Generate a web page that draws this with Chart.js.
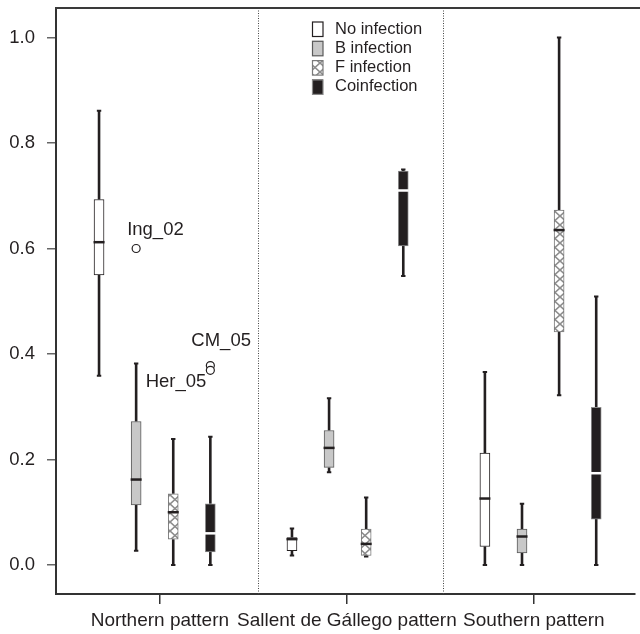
<!DOCTYPE html>
<html>
<head>
<meta charset="utf-8">
<script src="https://cdn.jsdelivr.net/npm/chart.js@4.4.1/dist/chart.umd.min.js"></script>
<style>
html,body{margin:0;padding:0;background:#fff;}
canvas{display:block;}
</style>
</head>
<body>
<canvas id="c" width="640" height="634"></canvas>
<script>
// ---- data ----
const groups = ['Northern pattern', 'Sallent de Gállego pattern', 'Southern pattern'];
const seriesNames = ['No infection', 'B infection', 'F infection', 'Coinfection'];
// each row: [lower whisker, Q1, median, Q3, upper whisker] for one group
const noInfection = [[0.359, 0.550, 0.612, 0.693, 0.861], [0.018, 0.027, 0.049, 0.052, 0.069], [0.000, 0.035, 0.126, 0.212, 0.366]];
const bInfection  = [[0.027, 0.114, 0.162, 0.272, 0.382], [0.176, 0.185, 0.222, 0.255, 0.316], [0.000, 0.023, 0.054, 0.068, 0.116]];
const fInfection  = [[0.000, 0.049, 0.100, 0.135, 0.239], [0.016, 0.018, 0.040, 0.068, 0.128], [0.322, 0.442, 0.635, 0.673, 1.000]];
const coinfection = [[0.000, 0.025, 0.060, 0.116, 0.243], [0.548, 0.605, 0.710, 0.747, 0.750], [0.000, 0.087, 0.174, 0.299, 0.509]];
const outlierLabels = ['Ing_02', 'CM_05', 'Her_05'];
const outlierGroup  = [0, 0, 0];
const outlierSeries = [1, 3, 3];
const outlierValues = [0.600, 0.378, 0.369];
const yTickValues = [0.0, 0.2, 0.4, 0.6, 0.8, 1.0];

// ---- layout helpers ----
const seriesData = [noInfection, bInfection, fInfection, coinfection];
const GROUP_STEP = 5.2;
const boxPos = (g, s) => g * GROUP_STEP + s + 1;
const groupTickPos = groups.map((_, g) => 2.64 + 5.04 * g);
const dividerPos = [5.28, 10.28];
const INK = '#231f20';
const FAMILY = "'Liberation Sans', Arial, Helvetica, sans-serif";
const TICK_FONT = {family: FAMILY, size: 18.5};
const XLAB_FONT = {family: FAMILY, size: 19};
const NOTE_SIZE = 18.5;
const LEGEND_SIZE = 16.5;

function makePattern() {
  const c = document.createElement('canvas');
  c.width = 10; c.height = 9;
  const x = c.getContext('2d');
  x.fillStyle = '#fff'; x.fillRect(0, 0, 10, 9);
  x.strokeStyle = '#8c8c8c'; x.lineWidth = 1.6;
  x.beginPath();
  x.moveTo(0, 0); x.lineTo(10, 9);
  x.moveTo(10, 0); x.lineTo(0, 9);
  x.stroke();
  return document.getElementById('c').getContext('2d').createPattern(c, 'repeat');
}
const hatch = makePattern();

const fills   = ['#ffffff', '#c8c8c8', hatch, INK];
const borders = [INK, '#5a5a5a', '#7a7a7a', '#8a8a8a'];
const medianColors = [INK, INK, INK, '#ffffff'];

const datasets = seriesNames.map((name, s) => ({
  type: 'bar',
  label: name,
  data: seriesData[s].map((row, g) => ({x: boxPos(g, s), y: [row[1], row[3]]})),
  backgroundColor: fills[s],
  borderColor: borders[s],
  borderWidth: 1,
  borderSkipped: false,
  barThickness: 10,
  grouped: false,
  order: 2
}));
datasets.push({
  type: 'scatter',
  label: 'outliers',
  data: outlierValues.map((v, i) => ({x: boxPos(outlierGroup[i], outlierSeries[i]), y: v})),
  pointRadius: 4,
  pointBackgroundColor: '#ffffff',
  pointBorderColor: INK,
  pointBorderWidth: 1.2,
  order: 1
});

const boxPlugin = {
  id: 'boxParts',
  beforeDatasetsDraw(chart) {
    const {ctx, chartArea, scales: {x, y}} = chart;
    ctx.save();
    // dotted group dividers
    ctx.strokeStyle = '#444'; ctx.lineWidth = 1; ctx.setLineDash([1, 1.5]);
    dividerPos.forEach(d => {
      const px = Math.round(x.getPixelForValue(d)) + 0.5;
      ctx.beginPath(); ctx.moveTo(px, chartArea.top); ctx.lineTo(px, chartArea.bottom); ctx.stroke();
    });
    ctx.setLineDash([]);
    // whiskers and caps
    ctx.strokeStyle = INK;
    seriesData.forEach((rows, s) => rows.forEach((r, g) => {
      const px = x.getPixelForValue(boxPos(g, s));
      ctx.lineWidth = 2.6;
      ctx.beginPath();
      ctx.moveTo(px, y.getPixelForValue(r[0])); ctx.lineTo(px, y.getPixelForValue(r[1]));
      ctx.moveTo(px, y.getPixelForValue(r[3])); ctx.lineTo(px, y.getPixelForValue(r[4]));
      ctx.stroke();
      ctx.lineWidth = 2;
      ctx.beginPath();
      [r[0], r[4]].forEach(v => {
        const py = y.getPixelForValue(v);
        ctx.moveTo(px - 2.2, py); ctx.lineTo(px + 2.2, py);
      });
      ctx.stroke();
    }));
    ctx.restore();
  },
  afterDatasetsDraw(chart) {
    const {ctx, scales: {x, y}} = chart;
    ctx.save();
    // medians
    seriesData.forEach((rows, s) => rows.forEach((r, g) => {
      const px = x.getPixelForValue(boxPos(g, s));
      const py = y.getPixelForValue(r[2]);
      ctx.strokeStyle = medianColors[s];
      ctx.lineWidth = 2.5;
      ctx.beginPath(); ctx.moveTo(px - 5.5, py); ctx.lineTo(px + 5.5, py); ctx.stroke();
    }));
    // outlier labels
    ctx.fillStyle = INK;
    ctx.font = `${NOTE_SIZE}px ${FAMILY}`;
    ctx.textBaseline = 'middle';
    const offs = [[-9, -19, 'left'], [-19, -25, 'left'], [-4, 12, 'right']];
    outlierLabels.forEach((t, i) => {
      const px = x.getPixelForValue(boxPos(outlierGroup[i], outlierSeries[i]));
      const py = y.getPixelForValue(outlierValues[i]);
      ctx.textAlign = offs[i][2];
      ctx.fillText(t, px + offs[i][0], py + offs[i][1]);
    });
    ctx.restore();
  },
  afterDraw(chart) {
    const {ctx, chartArea} = chart;
    ctx.save();
    // top frame line
    ctx.strokeStyle = '#3a3a3a'; ctx.lineWidth = 2;
    ctx.beginPath(); ctx.moveTo(chartArea.left - 1, chartArea.top); ctx.lineTo(chart.width, chartArea.top); ctx.stroke();
    // legend
    const lx = chartArea.left + 256, ly = chartArea.top + 13.5;
    ctx.font = `${LEGEND_SIZE}px ${FAMILY}`;
    ctx.textBaseline = 'middle'; ctx.textAlign = 'left';
    seriesNames.forEach((name, s) => {
      const top = ly + s * 19.3;
      ctx.fillStyle = fills[s];
      ctx.fillRect(lx, top, 11, 15);
      ctx.strokeStyle = s === 0 ? INK : borders[s];
      ctx.lineWidth = 1.2;
      ctx.strokeRect(lx + 0.5, top + 0.5, 10.5, 14.5);
      ctx.fillStyle = INK;
      ctx.fillText(name, lx + 23, top + 7.5);
    });
    ctx.restore();
  }
};

new Chart(document.getElementById('c'), {
  type: 'bar',
  data: {datasets},
  options: {
    responsive: false,
    animation: false,
    layout: {padding: {top: 8, right: 0, bottom: 0, left: 0}},
    plugins: {legend: {display: false}, tooltip: {enabled: false}},
    scales: {
      x: {
        type: 'linear',
        offset: false,
        min: -0.16,
        max: 15.44,
        afterBuildTicks: s => { s.ticks = groupTickPos.map(v => ({value: v})); },
        afterFit: s => { s.height = 40; s.paddingLeft = 0; s.paddingRight = 0; },
        ticks: {
          autoSkip: false, maxRotation: 0, padding: 5,
          color: INK, font: XLAB_FONT,
          callback: (v, i) => groups[i]
        },
        grid: {drawOnChartArea: false, offset: false, tickLength: 10, color: '#333', lineWidth: 1.5},
        border: {color: '#333', width: 2}
      },
      y: {
        min: -0.055,
        max: 1.056,
        afterBuildTicks: s => { s.ticks = yTickValues.map(v => ({value: v})); },
        afterFit: s => { s.width = 56; s.paddingTop = 0; s.paddingBottom = 0; },
        ticks: {
          padding: 12, color: INK, font: TICK_FONT,
          callback: v => Number(v).toFixed(1)
        },
        grid: {drawOnChartArea: false, tickLength: 9, color: '#666', lineWidth: 1.5},
        border: {color: '#333', width: 2}
      }
    }
  },
  plugins: [boxPlugin]
});
</script>
</body>
</html>
